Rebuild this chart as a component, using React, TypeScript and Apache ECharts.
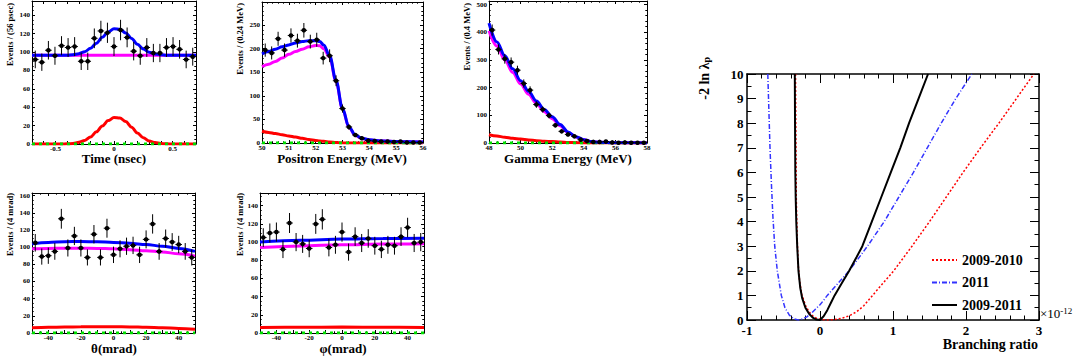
import React, { useEffect, useRef } from 'react';
import * as echarts from 'echarts';

const SERIF = '"Liberation Serif", "Times New Roman", Times, serif';

// ---------- Panel 1 : Time ----------
const timeCenters = [-0.672, -0.616, -0.56, -0.504, -0.448, -0.392, -0.336, -0.28, -0.224, -0.168, -0.112, -0.056, 0, 0.056, 0.112, 0.168, 0.224, 0.28, 0.336, 0.392, 0.448, 0.504, 0.56, 0.616, 0.672];
const timeCounts = [92, 89, 102, 96, 107, 105, 106, 90, 90, 115, 123, 121, 106, 124, 116, 101, 96, 105, 99, 99, 105, 106, 103, 92, 95];
const timeCurveX = [-0.7, -0.6, -0.5, -0.45, -0.4, -0.35, -0.3, -0.25, -0.2, -0.15, -0.1, -0.05, 0, 0.05, 0.1, 0.15, 0.2, 0.25, 0.3, 0.35, 0.4, 0.45, 0.5, 0.6, 0.7];
const timeTotal = [96.5, 96.5, 96.5, 96.6, 96.7, 97.1, 98.3, 100.4, 104.2, 109.7, 116.1, 122, 125.3, 124.9, 120.9, 114.8, 108.5, 103.3, 99.9, 98, 97.1, 96.7, 96.6, 96.5, 96.5];
const timeSignal = [0, 0, 0.02, 0.07, 0.2, 0.6, 1.8, 3.9, 7.7, 13.2, 19.6, 25.5, 28.8, 28.4, 24.4, 18.3, 12, 6.8, 3.4, 1.5, 0.55, 0.2, 0.05, 0, 0];
const timeBkgX = [-0.7, 0.7];
const timeBkg = [96.5, 96.5];

// ---------- Panel 2 : Positron energy ----------
const eposCenters = [50.12, 50.36, 50.6, 50.84, 51.08, 51.32, 51.56, 51.8, 52.04, 52.28, 52.52, 52.76, 53.0, 53.24, 53.48, 53.72, 53.96, 54.2, 54.44, 54.68, 54.92, 55.16, 55.4, 55.64, 55.88];
const eposCounts = [197, 191, 221, 197, 228, 217, 239, 215, 219, 180, 185, 132, 73, 34, 17, 10, 5, 4, 3, 3, 2, 3, 1, 1, 1];
const eposCurveX = [50, 50.25, 50.5, 50.75, 51, 51.25, 51.5, 51.75, 52, 52.15, 52.3, 52.52, 52.76, 53.0, 53.24, 53.48, 53.72, 54, 54.5, 55, 55.5, 56];
const eposTotal = [189, 194, 199, 204, 208, 212, 215, 217, 217, 215, 208, 185, 132, 73, 34, 17, 10, 7, 4, 3, 2.5, 2];
const eposBkg = [162, 167, 173, 180, 188, 194, 199, 204, 207, 206, 200, 182, 130, 72, 33, 16, 9.5, 6.5, 4, 3, 2.5, 2];
const eposSignal = [25, 22.5, 20, 17.5, 15, 12.5, 10, 7.5, 5.5, 4.5, 3.5, 2, 0.8, 0.2, 0, 0, 0, 0, 0, 0, 0, 0];

// ---------- Panel 3 : Gamma energy ----------
const egamCenters = [48.2, 48.6, 49.0, 49.4, 49.8, 50.2, 50.6, 51.0, 51.4, 51.8, 52.2, 52.6, 53.0, 53.4, 53.8, 54.2, 54.6, 55.0, 55.4, 55.8, 56.2, 56.6, 57.0, 57.4, 57.8];
const egamCounts = [408, 338, 304, 292, 263, 215, 191, 139, 121, 99, 64, 42, 31, 24, 12, 7, 4, 4, 5, 2, 1, 2, 1, 1, 1];
const egamCurveX = [48, 48.5, 49, 49.5, 50, 50.5, 51, 51.5, 52, 52.5, 53, 53.5, 54, 54.5, 55, 56, 57, 58];
const egamTotal = [433, 365, 315, 268, 225, 187, 152, 121, 95, 67, 40, 23, 12, 5, 2.5, 1, 0.5, 0.3];
const egamBkg = [405, 350, 300, 255, 213, 176, 143, 113, 88, 62, 38, 22, 11.5, 4.8, 2.3, 1, 0.5, 0.3];
const egamSignal = [30, 25, 21, 17, 14, 11, 8.5, 6.5, 5, 3.5, 2, 1, 0.4, 0.1, 0, 0, 0, 0];

// ---------- Panel 4 : theta ----------
const thetaCenters = [-48, -44, -40, -36, -32, -28, -24, -20, -16, -12, -8, -4, 0, 4, 8, 12, 16, 20, 24, 28, 32, 36, 40, 44, 48];
const thetaCounts = [105, 89, 90, 95, 133, 99, 113, 99, 88, 115, 88, 122, 91, 98, 101, 102, 91, 109, 127, 95, 110, 106, 103, 95, 88];
const thetaCurveX = [-50, -40, -30, -20, -10, 0, 10, 20, 30, 40, 50];
const thetaTotal = [104, 105.5, 106.3, 106.5, 106.2, 105.5, 104.5, 103, 101, 98.5, 95];
const thetaBkg = [98, 98.5, 98.8, 98.8, 98.5, 98, 97, 95.8, 94.3, 92.3, 89.5];
const thetaSignal = [6, 6.6, 7, 7.2, 7.3, 7.3, 7.1, 6.7, 6.1, 5.3, 4.5];

// ---------- Panel 5 : phi ----------
const phiCenters = [-48, -44, -40, -36, -32, -28, -24, -20, -16, -12, -8, -4, 0, 4, 8, 12, 16, 20, 24, 28, 32, 36, 40, 44, 48];
const phiCounts = [105, 110, 111, 92, 121, 100, 98, 93, 120, 125, 94, 97, 111, 89, 106, 99, 104, 96, 92, 97, 96, 106, 116, 99, 100];
const phiCurveX = [-50, -25, 0, 25, 50];
const phiTotal = [100, 102, 103.3, 104, 104.2];
const phiBkg = [94, 95.8, 97, 97.8, 98.3];
const phiSignal = [6, 6.3, 6.5, 6.3, 6];

// ---------- Panel 6 : likelihood ratio ----------
const lr0910X = [-0.335, -0.33, -0.325, -0.315, -0.3, -0.28, -0.25, -0.2, -0.15, -0.1, -0.05, 0, 0.05, 0.12, 0.2, 0.3, 0.4, 0.5, 0.6, 0.72, 0.85, 1.01, 1.26, 1.5, 1.73, 1.96, 2.2, 2.45, 2.69, 2.93];
const lr0910Y = [10, 7, 5, 3.5, 2.3, 1.6, 1.05, 0.6, 0.33, 0.17, 0.07, 0.03, 0.01, 0, 0.02, 0.07, 0.17, 0.33, 0.58, 1, 1.45, 2, 3, 4, 5, 6, 7, 8, 9, 10];
const lr11X = [-0.715, -0.7, -0.685, -0.665, -0.645, -0.62, -0.585, -0.53, -0.48, -0.42, -0.36, -0.3, -0.24, -0.18, -0.12, -0.06, 0, 0.05, 0.1, 0.25, 0.4, 0.65, 0.88, 1.08, 1.28, 1.47, 1.66, 1.86, 2.08];
const lr11Y = [10, 8.5, 7, 5.5, 4.2, 3, 2, 1, 0.5, 0.2, 0.05, 0, 0.04, 0.13, 0.27, 0.45, 0.62, 0.8, 1, 1.5, 2, 3, 4, 5, 6, 7, 8, 9, 10];
const lr0911X = [-0.345, -0.342, -0.338, -0.333, -0.325, -0.312, -0.295, -0.27, -0.245, -0.2, -0.15, -0.1, -0.05, 0, 0.05, 0.1, 0.15, 0.2, 0.3, 0.4, 0.5, 0.58, 0.71, 0.84, 0.97, 1.1, 1.22, 1.35, 1.48];
const lr0911Y = [10, 8, 6, 5, 4, 3, 2, 1.3, 0.9, 0.5, 0.25, 0.1, 0.02, 0, 0.15, 0.4, 0.7, 1, 1.5, 2, 2.55, 3, 4, 5, 6, 7, 8, 9, 10];
const legendNames = ['2009-2010', '2011', '2009-2011'];

const GRIDS = [
  { left: 32, top: 1, width: 164, height: 143 },
  { left: 262, top: 2, width: 161, height: 141 },
  { left: 489, top: 1, width: 158, height: 142 },
  { left: 32, top: 193, width: 163, height: 140 },
  { left: 260, top: 193, width: 164, height: 140 },
  { left: 747, top: 74, width: 292, height: 246 },
];

type AxCfg = { min: number; max: number; interval: number; minor: number; step: number };

function multipleFmt(step: number) {
  return (v: number) => {
    const r = Math.round(v / step) * step;
    if (Math.abs(v - r) > 1e-6) return '';
    const s = String(Math.round(r * 1000) / 1000);
    return s === '-0' ? '0' : s;
  };
}

function axisPair(kind: 'x' | 'y', gi: number, cfg: AxCfg, big: boolean) {
  const base: any = {
    type: 'value',
    gridIndex: gi,
    min: cfg.min,
    max: cfg.max,
    interval: cfg.interval,
    axisLine: { show: true, onZero: false, lineStyle: { color: '#000', width: big ? 1.5 : 1 } },
    axisTick: { show: true, inside: true, length: big ? 9 : 3, lineStyle: { color: '#000', width: 1 } },
    minorTick: { show: cfg.minor > 0, splitNumber: cfg.minor || 2, length: big ? 4.5 : 1.7, lineStyle: { color: '#000', width: 1 } },
    splitLine: { show: false },
    minorSplitLine: { show: false },
  };
  const main = {
    ...base,
    position: kind === 'x' ? 'bottom' : 'left',
    axisLabel: {
      show: true,
      color: '#000',
      fontFamily: SERIF,
      fontWeight: 'bold',
      fontSize: big ? 13 : 7,
      lineHeight: big ? 13 : 7,
      margin: big ? 3.5 : kind === 'x' ? 1 : 2,
      formatter: multipleFmt(cfg.step),
    },
  };
  const mirror = { ...base, position: kind === 'x' ? 'top' : 'right', axisLabel: { show: false } };
  return [main, mirror];
}

function zip(xs: number[], ys: number[]) {
  return xs.map((x, i) => [x, ys[i]]);
}

function curve(name: string, xs: number[], ys: number[], color: string, width: number, type: any, gi: number, z: number, smooth = true) {
  return {
    type: 'line',
    name,
    xAxisIndex: gi * 2,
    yAxisIndex: gi * 2,
    data: zip(xs, ys),
    symbol: 'none',
    showSymbol: false,
    smooth: smooth ? 0.35 : false,
    smoothMonotone: 'x',
    lineStyle: { color, width, type },
    itemStyle: { color },
    z,
    silent: true,
    clip: true,
  };
}

function points(xs: number[], ys: number[], binW: number, gi: number) {
  return {
    type: 'custom',
    xAxisIndex: gi * 2,
    yAxisIndex: gi * 2,
    data: zip(xs, ys),
    z: 6,
    silent: true,
    renderItem: (_p: any, api: any) => {
      const x = api.value(0) as number;
      const y = api.value(1) as number;
      const e = Math.sqrt(y);
      const c = api.coord([x, y]);
      const t = api.coord([x, y + e]);
      const b = api.coord([x, Math.max(0, y - e)]);
      const hw = api.size([binW, 0])[0] / 2;
      return {
        type: 'group',
        children: [
          { type: 'line', shape: { x1: c[0], y1: t[1], x2: c[0], y2: b[1] }, style: { stroke: '#000', lineWidth: 1 } },
          { type: 'line', shape: { x1: c[0] - hw, y1: c[1], x2: c[0] + hw, y2: c[1] }, style: { stroke: '#000', lineWidth: 1 } },
          { type: 'circle', shape: { cx: c[0], cy: c[1], r: 2.3 }, style: { fill: '#000' } },
        ],
      };
    },
  };
}

function fitPanel(gi: number, cx: number[], total: number[], bkg: number[], bkgX: number[], sig: number[], xr: [number, number], centers: number[], counts: number[], binW: number) {
  return [
    curve('bkg' + gi, bkgX, bkg, '#ff00ff', 3, 'solid', gi, 2),
    curve('sig' + gi, cx, sig, '#ff0000', 3, 'solid', gi, 3),
    curve('rmd' + gi, xr, [0, 0], '#00dd00', 3, [3, 4], gi, 4, false),
    curve('tot' + gi, cx, total, '#0000ff', 3, 'solid', gi, 5),
    points(centers, counts, binW, gi),
  ];
}

function vtitle(text: string, x: number, y: number, size: number) {
  return {
    type: 'text',
    x,
    y,
    rotation: Math.PI / 2,
    style: { text, fontFamily: SERIF, fontWeight: 'bold', fontSize: size, fill: '#000', align: 'right', verticalAlign: 'middle' },
  };
}

function htitle(text: string, x: number, y: number, size: number, align = 'center') {
  return {
    type: 'text',
    x,
    y,
    style: { text, fontFamily: SERIF, fontWeight: 'bold', fontSize: size, fill: '#000', align, verticalAlign: 'middle' },
  };
}

export default function App() {
  const ref = useRef<HTMLDivElement>(null);
  useEffect(() => {
    if (!ref.current) return;
    const chart = echarts.init(ref.current, undefined, { renderer: 'svg' });
    const axCfg: [AxCfg, AxCfg][] = [
      [{ min: -0.7, max: 0.7, interval: 0.1, minor: 0, step: 0.5 }, { min: 0, max: 155.6, interval: 20, minor: 4, step: 20 }],
      [{ min: 50, max: 56, interval: 1, minor: 5, step: 1 }, { min: 0, max: 299, interval: 50, minor: 5, step: 50 }],
      [{ min: 48, max: 58, interval: 2, minor: 4, step: 2 }, { min: 0, max: 513, interval: 100, minor: 5, step: 100 }],
      [{ min: -50, max: 50, interval: 10, minor: 2, step: 20 }, { min: 0, max: 163, interval: 20, minor: 4, step: 20 }],
      [{ min: -50, max: 50, interval: 10, minor: 2, step: 20 }, { min: 0, max: 154, interval: 20, minor: 4, step: 20 }],
      [{ min: -1, max: 3, interval: 1, minor: 5, step: 1 }, { min: 0, max: 10, interval: 1, minor: 2, step: 1 }],
    ];
    const xAxis: any[] = [];
    const yAxis: any[] = [];
    axCfg.forEach(([xc, yc], gi) => {
      xAxis.push(...axisPair('x', gi, xc, gi === 5));
      yAxis.push(...axisPair('y', gi, yc, gi === 5));
    });

    const series: any[] = [
      ...fitPanel(0, timeCurveX, timeTotal, timeBkg, timeBkgX, timeSignal, [-0.7, 0.7], timeCenters, timeCounts, 0.056),
      ...fitPanel(1, eposCurveX, eposTotal, eposBkg, eposCurveX, eposSignal, [50, 56], eposCenters, eposCounts, 0.24),
      ...fitPanel(2, egamCurveX, egamTotal, egamBkg, egamCurveX, egamSignal, [48, 58], egamCenters, egamCounts, 0.4),
      ...fitPanel(3, thetaCurveX, thetaTotal, thetaBkg, thetaCurveX, thetaSignal, [-50, 50], thetaCenters, thetaCounts, 4),
      ...fitPanel(4, phiCurveX, phiTotal, phiBkg, phiCurveX, phiSignal, [-50, 50], phiCenters, phiCounts, 4),
      curve(legendNames[0], lr0910X, lr0910Y, '#ff0000', 1.5, [2, 2], 5, 3, false),
      curve(legendNames[1], lr11X, lr11Y, '#3333ff', 1.5, [5, 2, 1, 2], 5, 3, false),
      curve(legendNames[2], lr0911X, lr0911Y, '#000000', 2, 'solid', 5, 4, false),
    ];

    chart.setOption({
      animation: false,
      backgroundColor: '#fff',
      grid: GRIDS.map((g) => ({ ...g, containLabel: false, show: false })),
      xAxis,
      yAxis,
      series,
      legend: {
        data: legendNames,
        orient: 'vertical',
        left: 926,
        top: 248,
        itemWidth: 25,
        itemHeight: 12,
        itemGap: 8.5,
        itemStyle: { opacity: 0, borderWidth: 0 },
        textStyle: { fontFamily: SERIF, fontWeight: 'bold', fontSize: 14, color: '#000' },
        selectedMode: false,
      },
      graphic: [
        vtitle('Events / (56 psec)', 10, 3, 8.5),
        vtitle('Events / (0.24 MeV)', 240, 3, 8.5),
        vtitle('Events / (0.4 MeV)', 467, 3, 8.5),
        vtitle('Events / (4 mrad)', 10, 193, 8.5),
        vtitle('Events / (4 mrad)', 240, 193, 8.5),
        htitle('Time (nsec)', 114, 158.5, 13),
        htitle('Positron Energy (MeV)', 342, 158.5, 13),
        htitle('Gamma Energy (MeV)', 568, 158.5, 13),
        htitle('θ(mrad)', 114, 348.5, 13),
        htitle('φ(mrad)', 343, 348.5, 13),
        htitle('Branching ratio', 1038, 344, 14, 'right'),
        {
          type: 'text',
          x: 1040,
          y: 313,
          style: {
            text: '×10{sup|-12}',
            fontFamily: SERIF,
            fontSize: 13,
            fill: '#000',
            align: 'left',
            verticalAlign: 'middle',
            rich: { sup: { fontFamily: SERIF, fontSize: 9, verticalAlign: 'top', fill: '#000' } },
          },
        },
        {
          type: 'text',
          x: 704,
          y: 57,
          rotation: Math.PI / 2,
          style: {
            text: '-2 ln λ{sub|p}',
            fontFamily: SERIF,
            fontWeight: 'bold',
            fontSize: 14,
            fill: '#000',
            align: 'right',
            verticalAlign: 'middle',
            rich: { sub: { fontFamily: SERIF, fontWeight: 'bold', fontSize: 10, verticalAlign: 'bottom', fill: '#000' } },
          },
        },
      ],
    });
    return () => chart.dispose();
  }, []);
  return <div ref={ref} style={{ position: 'absolute', left: 0, top: 0, width: 1083, height: 363 }} />;
}
